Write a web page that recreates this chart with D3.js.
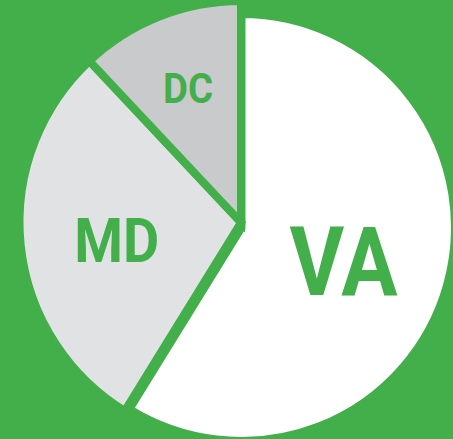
<!DOCTYPE html>
<html>
<head>
<meta charset="utf-8">
<script src="https://cdn.jsdelivr.net/npm/d3@7/dist/d3.min.js"></script>
<style>
  html, body { margin: 0; padding: 0; background: #42AF4B; }
  svg { display: block; }
</style>
</head>
<body>
<script>
// ---- data ----
const regions = ["VA", "MD", "DC"];
const shares = [58.8, 29.2, 12.0];
const fills = ["#FFFFFF", "#E1E2E3", "#C9CACC"];

// ---- layout ----
const W = 453, H = 439;
const green = "#42AF4B";
const strokeW = 8;
// VA slice is pulled out slightly from the MD/DC group
const groupCenter = { x: 241, y: 222.5 }, groupR = 221.5;
const vaCenter = { x: 241.5, y: 227.5 }, vaR = 213.5;
const labelR = { VA: 106, MD: 125, DC: 144 };
const labelShift = { VA: 4, MD: 5, DC: -1 };
const labelSize = { VA: 96, MD: 62, DC: 42 };
const labelLen = { VA: 108, MD: 85, DC: 50 };

const data = regions.map((r, i) => ({ region: r, value: shares[i], fill: fills[i] }));

const svg = d3.select("body").append("svg")
  .attr("width", W).attr("height", H);

svg.append("rect").attr("width", W).attr("height", H).attr("fill", green);

const pie = d3.pie().value(d => d.value).sort(null);
const arcs = pie(data);

function centerOf(d) { return d.data.region === "VA" ? vaCenter : groupCenter; }
function radiusOf(d) { return d.data.region === "VA" ? vaR : groupR; }

const g = svg.selectAll("g.slice").data(arcs).join("g")
  .attr("class", "slice")
  .attr("transform", d => `translate(${centerOf(d).x},${centerOf(d).y})`);

g.append("path")
  .attr("d", d => d3.arc().innerRadius(0).outerRadius(radiusOf(d))(d))
  .attr("fill", d => d.data.fill)
  .attr("stroke", green)
  .attr("stroke-width", strokeW)
  .attr("stroke-linejoin", "miter");

g.append("text")
  .attr("transform", d => {
    const r = labelR[d.data.region];
    const c = d3.arc().innerRadius(r).outerRadius(r).centroid(d);
    return `translate(${c[0]},${c[1] + labelShift[d.data.region]})`;
  })
  .attr("text-anchor", "middle")
  .attr("dy", d => labelSize[d.data.region] * 0.355)
  .attr("font-family", "Roboto, 'DejaVu Sans', sans-serif")
  .attr("font-weight", 700)
  .attr("font-size", d => labelSize[d.data.region])
  .attr("textLength", d => labelLen[d.data.region])
  .attr("lengthAdjust", "spacingAndGlyphs")
  .attr("fill", green)
  .text(d => d.data.region);
</script>
</body>
</html>
